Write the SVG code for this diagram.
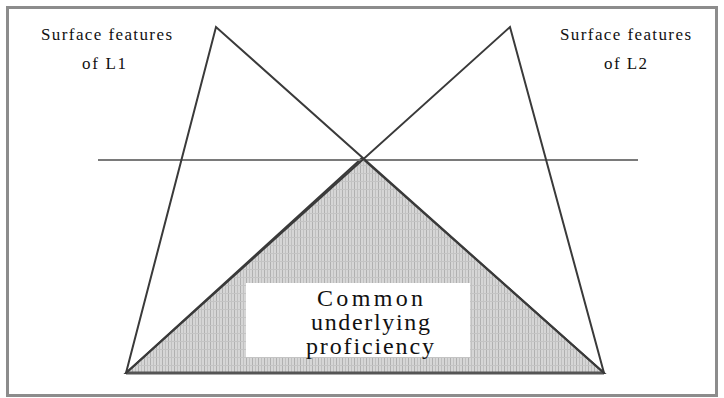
<svg xmlns="http://www.w3.org/2000/svg" width="724" height="398" viewBox="0 0 724 398">
<style>
.lbl{font-family:"Liberation Serif","Times New Roman",serif;font-size:17px;fill:#111}
.big{font-family:"Liberation Serif","Times New Roman",serif;font-size:24px;fill:#111}
.edge{stroke:#3a3a3a;stroke-width:2;fill:none;stroke-linecap:round}
</style>
<defs>
<pattern id="dither" width="6" height="8" patternUnits="userSpaceOnUse">
<rect width="6" height="8" fill="#d6d6d6"/>
<rect x="0" y="0" width="1" height="8" fill="#b0b0b0"/>
<rect x="3" y="0" width="1" height="8" fill="#c0c0c0"/>
<rect x="0" y="5" width="6" height="1" fill="#c4c4c4"/>
</pattern>
</defs>
<rect x="0" y="0" width="724" height="398" fill="#ffffff"/>
<rect x="7.5" y="7.5" width="709" height="388" fill="#ffffff" stroke="#8c8c8c" stroke-width="3"/>
<g id="cup">
<polygon points="362,158 126,373 604,373" fill="url(#dither)" stroke="#3a3a3a" stroke-width="2"/>
<line x1="126" y1="373" x2="604" y2="373" stroke="#555" stroke-width="3"/>
<rect x="246" y="283" width="224" height="74" fill="#ffffff"/>
<text class="big" text-anchor="middle"><tspan x="370" y="306" textLength="106" lengthAdjust="spacing">Common</tspan><tspan x="370.5" y="330" textLength="119" lengthAdjust="spacing">underlying</tspan><tspan x="370" y="354" textLength="128" lengthAdjust="spacing">proficiency</tspan></text>
</g>
<g id="connectors">
<line x1="98" y1="160" x2="638" y2="160" stroke="#7a7a7a" stroke-width="2"/>
<polyline class="edge" points="126,373 216,27 604,373"/>
<polyline class="edge" points="126,373 510,27 604,373"/>
</g>
<g id="label-l1">
<text class="lbl" x="41" y="40" textLength="131" lengthAdjust="spacing">Surface features</text>
<text class="lbl" x="82" y="69" textLength="44" lengthAdjust="spacing">of L1</text>
</g>
<g id="label-l2">
<text class="lbl" x="560" y="40" textLength="131" lengthAdjust="spacing">Surface features</text>
<text class="lbl" x="604" y="69" textLength="43" lengthAdjust="spacing">of L2</text>
</g>
</svg>
